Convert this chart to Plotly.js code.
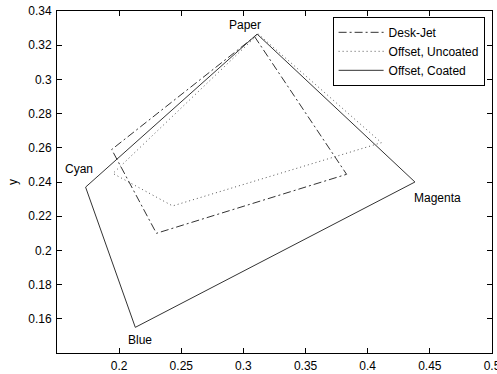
<!DOCTYPE html>
<html>
<head>
<meta charset="utf-8">
<script src="https://cdn.plot.ly/plotly-3.0.1.min.js"></script>
<style>html,body{margin:0;padding:0;background:#fff;}#chart{width:497px;height:374px;}</style>
</head>
<body>
<div id="chart"></div>
<script>
// Vertex order: Paper, Magenta, Blue, Cyan (closed back to Paper)
var vertexNames = ["Paper", "Magenta", "Blue", "Cyan"];
var deskJetX = [0.309, 0.383, 0.230, 0.194];
var deskJetY = [0.325, 0.2445, 0.210, 0.259];
var uncoatedX = [0.312, 0.411, 0.243, 0.195];
var uncoatedY = [0.3265, 0.263, 0.226, 0.245];
var coatedX = [0.311, 0.438, 0.213, 0.173];
var coatedY = [0.3265, 0.240, 0.155, 0.237];
var seriesNames = ["Desk-Jet", "Offset, Uncoated", "Offset, Coated"];
var xTicks = [0.2, 0.25, 0.3, 0.35, 0.4, 0.45, 0.5];
var yTicks = [0.16, 0.18, 0.2, 0.22, 0.24, 0.26, 0.28, 0.3, 0.32, 0.34];

function closed(a) { return a.concat([a[0]]); }

var lineColor = "#333333";
var traces = [
  {x: closed(deskJetX), y: closed(deskJetY), name: seriesNames[0], mode: "lines",
   line: {color: lineColor, width: 1, dash: "8px,3px,2px,3px"}},
  {x: closed(uncoatedX), y: closed(uncoatedY), name: seriesNames[1], mode: "lines",
   line: {color: "#555555", width: 1, dash: "1px,3px"}},
  {x: closed(coatedX), y: closed(coatedY), name: seriesNames[2], mode: "lines",
   line: {color: lineColor, width: 1}}
];

// label offsets (px) relative to Offset, Coated vertices
var labelShift = [[-12, 9], [23, -16], [5, -13], [-7, 18]];
var annotations = vertexNames.map(function (n, i) {
  return {x: coatedX[i], y: coatedY[i], xref: "x", yref: "y", text: n, showarrow: false,
          xshift: labelShift[i][0], yshift: labelShift[i][1],
          font: {family: "Liberation Sans, Arial, sans-serif", size: 12, color: "#000"}};
});

var axisCommon = {
  showline: true, linecolor: "#000", linewidth: 1, mirror: "ticks",
  ticks: "inside", ticklen: 5, tickcolor: "#000", tickwidth: 1,
  showgrid: false, zeroline: false, ticklabeloverflow: "allow",
  tickfont: {family: "Liberation Sans, Arial, sans-serif", size: 12, color: "#000"}
};

var layout = {
  width: 497, height: 374,
  margin: {l: 57, r: 5, t: 11, b: 21, pad: 0},
  paper_bgcolor: "#fff", plot_bgcolor: "#fff",
  font: {family: "Liberation Sans, Arial, sans-serif", size: 12, color: "#000"},
  showlegend: true,
  legend: {x: 0.983, y: 0.983, xanchor: "right", yanchor: "top",
           bgcolor: "#fff", bordercolor: "#000", borderwidth: 1,
           font: {family: "Liberation Sans, Arial, sans-serif", size: 12, color: "#000"},
           itemwidth: 45, tracegroupgap: 0},
  xaxis: Object.assign({}, axisCommon, {range: [0.15, 0.5], tickvals: xTicks, ticklabelstandoff: 2}),
  yaxis: Object.assign({}, axisCommon, {range: [0.14, 0.34], tickvals: yTicks, ticklabelstandoff: 2,
           title: {text: "y", standoff: 8, font: {family: "Liberation Sans, Arial, sans-serif", size: 12, color: "#000"}}}),
  annotations: annotations
};

Plotly.newPlot("chart", traces, layout, {displayModeBar: false, staticPlot: true});
</script>
</body>
</html>
